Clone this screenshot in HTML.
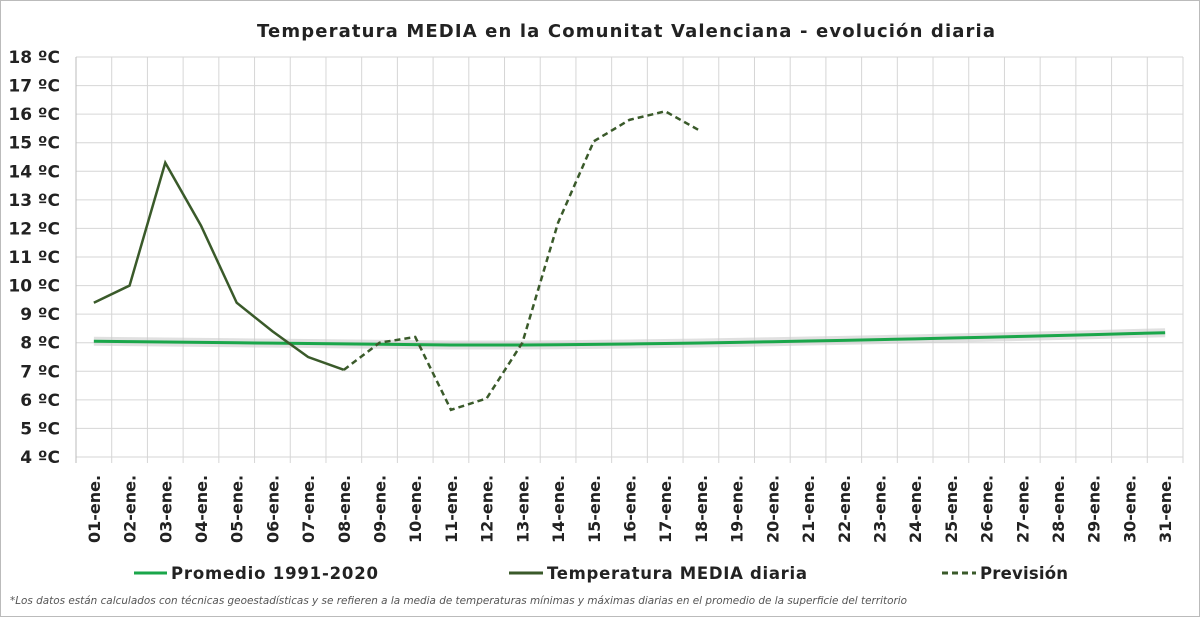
<!DOCTYPE html>
<html><head><meta charset="utf-8"><style>
body{margin:0;background:#fff}
svg{display:block}
text{font-family:"DejaVu Sans","Liberation Sans",sans-serif}
</style></head><body>
<svg width="1200" height="617" xmlns="http://www.w3.org/2000/svg">
<rect x="0.5" y="0.5" width="1199" height="616" fill="#fff" stroke="#bbb"/>
<text x="257" y="37" font-size="18" font-weight="bold" fill="#222" textLength="738" lengthAdjust="spacing">Temperatura MEDIA en la Comunitat Valenciana - evolución diaria</text>
<g id="grid" stroke="#d6d6d6" stroke-width="1"></g>
<g id="ylab" font-size="17" font-weight="bold" fill="#222" text-anchor="end"></g>
<g id="xlab" font-size="16" font-weight="bold" fill="#222"></g>
<g id="series" fill="none"></g>
<g font-size="16.5" font-weight="bold" fill="#222">
<line x1="134" y1="573" x2="167" y2="573" stroke="#1aa64a" stroke-width="3"/>
<text x="171" y="579" textLength="207" lengthAdjust="spacing">Promedio 1991-2020</text>
<line x1="509" y1="573" x2="543" y2="573" stroke="#3a5a2a" stroke-width="3"/>
<text x="547" y="579" textLength="260" lengthAdjust="spacing">Temperatura MEDIA diaria</text>
<line x1="942" y1="573" x2="976" y2="573" stroke="#3a5a2a" stroke-width="3" stroke-dasharray="6,4"/>
<text x="980" y="579" textLength="88" lengthAdjust="spacing">Previsión</text>
</g>
<text x="10" y="604" font-size="10.5" font-style="italic" fill="#555" textLength="897" lengthAdjust="spacingAndGlyphs">*Los datos están calculados con técnicas geoestadísticas y se refieren a la media de temperaturas mínimas y máximas diarias en el promedio de la superficie del territorio</text>
</svg>
<script>
const ns="http://www.w3.org/2000/svg";
const L=76,R=1183,T=57,B=457,dx=(R-L)/31,py=(B-T)/14;
const X=i=>L+dx*(i+0.5),Y=v=>B-(v-4)*py;
function el(p,n,a,t){const e=document.createElementNS(ns,n);for(const k in a)e.setAttribute(k,a[k]);if(t)e.textContent=t;document.getElementById(p).appendChild(e);return e;}
for(let v=4;v<=18;v++){el("grid","line",{x1:L,x2:R,y1:Y(v),y2:Y(v)});el("ylab","text",{x:60,y:Y(v)+6},v+" ºC");}
for(let i=0;i<=31;i++){el("grid","line",{x1:L+dx*i,x2:L+dx*i,y1:T,y2:B+6,stroke:i==0?"#bbb":"#d6d6d6"});}
for(let i=0;i<31;i++){const d=String(i+1).padStart(2,"0")+"-ene.";el("xlab","text",{x:0,y:0,transform:`translate(${X(i)+6},543) rotate(-90)`},d);}
const prom=[];for(let i=0;i<31;i++){let v;if(i<10)v=8.05-0.013*i;else if(i<13)v=7.92;else v=7.92+0.43*Math.pow((i-12)/18,1.4);prom.push(v);}
const pts=a=>a.map(([i,v])=>X(i)+","+Y(v)).join(" ");
el("series","polyline",{points:pts(prom.map((v,i)=>[i,v])),stroke:"#ccc","stroke-width":9,"stroke-opacity":0.6});
el("series","polyline",{points:pts(prom.map((v,i)=>[i,v])),stroke:"#1aa64a","stroke-width":3});
el("series","polyline",{points:pts([[0,9.4],[1,10],[2,14.3],[3,12.1],[4,9.4],[5,8.4],[6,7.5],[7,7.05]]),stroke:"#3a5a2a","stroke-width":2.5});
el("series","polyline",{points:pts([[7,7.05],[8,8.0],[9,8.2],[10,5.65],[11,6.05],[12,8.0],[13,12.2],[14,15.05],[15,15.8],[16,16.1],[17,15.4]]),stroke:"#3a5a2a","stroke-width":2.5,"stroke-dasharray":"6,4"});
</script>
</body></html>
